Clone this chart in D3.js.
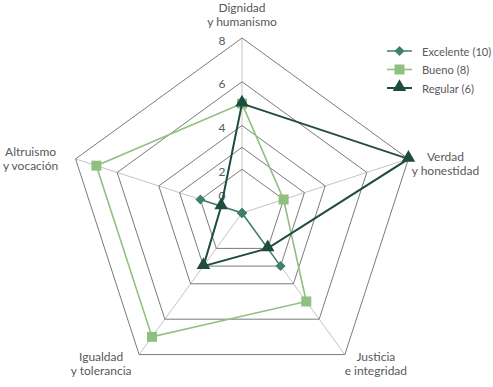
<!DOCTYPE html>
<html>
<head>
<meta charset="utf-8">
<script src="https://cdn.jsdelivr.net/npm/d3@7"></script>
<style>
  body { margin: 0; background: #fff; }
  svg { display: block; font-family: Lato, "Open Sans", sans-serif; }
</style>
</head>
<body>
<div id="chart"></div>
<script>
// axes, clockwise from the top
const categories = [
    ["Dignidad", "y humanismo"],
    ["Verdad", "y honestidad"],
    ["Justicia", "e integridad"],
    ["Igualdad", "y tolerancia"],
    ["Altruismo", "y vocación"]
];

const seriesNames = ["Excelente (10)", "Bueno (8)", "Regular (6)"];
const excelente = [0, 0, 3, 0, 2];
const bueno = [5, 2, 5, 7, 7];
const regular = [5, 8, 2, 3, 1];

const tickLabels = [0, 2, 4, 6, 8];
const gridLevels = [2, 3, 4, 6, 8];

function drawRadar() {
    const width = 493, height = 387;
    const cx = 242, cy = 213, radius = 175;

    const svg = d3.select("#chart")
        .append("svg")
        .attr("width", width)
        .attr("height", height);

    const r = d3.scaleLinear()
        .domain([0, 8])
        .range([0, radius]);

    const angle = d3.scaleLinear()
        .domain([0, categories.length])
        .range([0, 2 * Math.PI]);

    const pt = (i, v) => [
        cx + r(v) * Math.sin(angle(i)),
        cy - r(v) * Math.cos(angle(i))
    ];

    const closed = d3.line().curve(d3.curveLinearClosed);

    // spokes
    svg.append("g")
        .selectAll("line")
        .data(categories)
        .enter()
        .append("line")
        .attr("x1", cx)
        .attr("y1", cy)
        .attr("x2", (d, i) => pt(i, 8)[0])
        .attr("y2", (d, i) => pt(i, 8)[1])
        .attr("stroke", "#c4c4c4")
        .attr("stroke-width", 1);

    // rings
    svg.append("g")
        .selectAll("path")
        .data(gridLevels)
        .enter()
        .append("path")
        .attr("d", lv => closed(categories.map((c, i) => pt(i, lv))))
        .attr("fill", "none")
        .attr("stroke", "#7a7a7a")
        .attr("stroke-width", 1);

    // value labels on the top axis
    svg.append("g")
        .selectAll("text")
        .data(tickLabels)
        .enter()
        .append("text")
        .attr("x", cx - 20)
        .attr("y", v => cy - Math.max(r(v), 20) + 2)
        .attr("text-anchor", "middle")
        .attr("dominant-baseline", "central")
        .style("font-size", "12px")
        .style("fill", "#595959")
        .text(v => v);

    // category labels (shift of each label block from its axis end)
    const labelShift = [[0, -24], [37, 5], [31, 9], [-38, 9], [-45, 0]];
    const catLabels = svg.append("g")
        .selectAll("text")
        .data(categories)
        .enter()
        .append("text")
        .attr("text-anchor", "middle")
        .style("font-size", "12px")
        .style("fill", "#595959");

    catLabels.each(function (d, i) {
        const [vx, vy] = pt(i, 8);
        const x = vx + labelShift[i][0];
        const y = vy + labelShift[i][1];
        d3.select(this).selectAll("tspan")
            .data(d)
            .enter()
            .append("tspan")
            .attr("x", x)
            .attr("y", (t, k) => y - 7 + k * 14)
            .attr("dominant-baseline", "central")
            .text(t => t);
    });

    const colors = ["#3e7f6f", "#8fc07f", "#1f4c40"];
    const widths = [1.5, 1.6, 2];
    const allSeries = [excelente, bueno, regular];

    const markerPath = [
        "M0,-5L5,0L0,5L-5,0Z",
        d3.symbol().type(d3.symbolSquare).size(100)(),
        d3.symbol().type(d3.symbolTriangle).size(80)()
    ];

    allSeries.forEach((vals, s) => {
        const g = svg.append("g").attr("class", "series");
        g.append("path")
            .attr("d", closed(vals.map((v, i) => pt(i, v))))
            .attr("fill", "none")
            .attr("stroke", colors[s])
            .attr("stroke-width", widths[s])
            .attr("stroke-linejoin", "miter");
        g.selectAll(".mark")
            .data(vals)
            .enter()
            .append("path")
            .attr("class", "mark")
            .attr("d", markerPath[s])
            .attr("transform", (v, i) => `translate(${pt(i, v)[0]},${pt(i, v)[1] - (s === 2 ? 1 : 0)})`)
            .attr("fill", colors[s]);
    });

    // legend
    const legend = svg.append("g")
        .attr("transform", "translate(387, 51)");

    const item = legend.selectAll(".item")
        .data(seriesNames)
        .enter()
        .append("g")
        .attr("class", "item")
        .attr("transform", (d, i) => `translate(0, ${i * 18.5})`);

    item.append("line")
        .attr("x1", 0)
        .attr("x2", 25)
        .attr("y1", 0)
        .attr("y2", 0)
        .attr("stroke", (d, i) => colors[i])
        .attr("stroke-width", (d, i) => widths[i]);

    item.append("path")
        .attr("d", (d, i) => markerPath[i])
        .attr("transform", (d, i) => `translate(12.5, ${i === 2 ? -1 : 0})`)
        .attr("fill", (d, i) => colors[i]);

    item.append("text")
        .attr("x", 35)
        .attr("y", 0)
        .attr("dominant-baseline", "central")
        .style("font-size", "11.2px")
        .style("fill", "#595959")
        .text(d => d);
}

window.addEventListener("load", drawRadar);
</script>
</body>
</html>
